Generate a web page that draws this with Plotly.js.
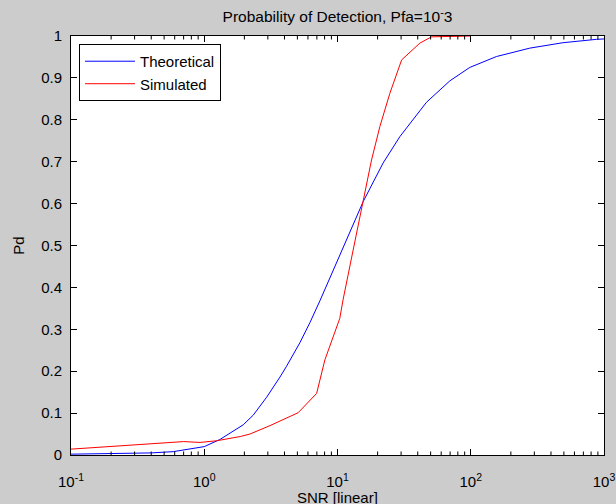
<!DOCTYPE html>
<html>
<head>
<meta charset="utf-8">
<script src="https://cdn.plot.ly/plotly-3.0.1.min.js"></script>
<style>html,body{margin:0;padding:0;background:#cccccc;}#chart{width:616px;height:504px;}</style>
</head>
<body>
<div id="chart"></div>
<script>
// Theoretical curve
const theoSNR = [0.1, 0.24, 0.4, 0.585, 0.8, 1.0, 1.31, 1.65, 1.96, 2.33, 2.94, 3.7, 4.15, 5.22, 6.21, 7.38, 9.29, 12.4, 15.6, 22, 29.4, 46.6, 69.7, 98.4, 156, 277, 493, 877, 1000];
const theoPd  = [0.002, 0.003, 0.005, 0.008, 0.014, 0.020, 0.037, 0.056, 0.072, 0.095, 0.138, 0.186, 0.212, 0.268, 0.316, 0.368, 0.440, 0.530, 0.605, 0.697, 0.760, 0.842, 0.893, 0.925, 0.951, 0.971, 0.984, 0.992, 0.993];
// Simulated curve
const simSNR = [0.1, 0.35, 0.7, 0.93, 1.24, 1.86, 2.2, 3.11, 5.07, 6.97, 8.04, 10.4, 11.0, 13.1, 15.6, 18.0, 20.8, 24.7, 30.3, 41.5, 50.8, 100];
const simPd  = [0.014, 0.026, 0.032, 0.030, 0.034, 0.044, 0.050, 0.070, 0.101, 0.147, 0.227, 0.326, 0.370, 0.489, 0.609, 0.704, 0.784, 0.863, 0.943, 0.983, 0.998, 1.0];
const seriesNames = ['Theoretical', 'Simulated'];
// Axis ticks
const xTicks = [0.1, 1, 10, 100, 1000];
const xTickText = ['10<sup>-1</sup>', '10<sup>0</sup>', '10<sup>1</sup>', '10<sup>2</sup>', '10<sup>3</sup>'];
const xMinorTicks = [0.2, 0.3, 0.4, 0.5, 0.6, 0.7, 0.8, 0.9, 2, 3, 4, 5, 6, 7, 8, 9, 20, 30, 40, 50, 60, 70, 80, 90, 200, 300, 400, 500, 600, 700, 800, 900];
const yTicks = [0, 0.1, 0.2, 0.3, 0.4, 0.5, 0.6, 0.7, 0.8, 0.9, 1];
const yTickText = ['0', '0.1', '0.2', '0.3', '0.4', '0.5', '0.6', '0.7', '0.8', '0.9', '1'];
const xTitle = 'SNR [linear]';

const fam = 'Liberation Sans, Arial, sans-serif';
const fsz = 15;

const traces = [
  {x: theoSNR, y: theoPd, name: seriesNames[0], type: 'scatter', mode: 'lines', line: {color: '#0000ff', width: 1}},
  {x: simSNR, y: simPd, name: seriesNames[1], type: 'scatter', mode: 'lines', line: {color: '#ff0000', width: 1}}
];

// minor log ticks (inside, bottom and top), placed through the x axis scale
const minorLen = 3.5 / 419;
const shapes = [];
xMinorTicks.forEach(v => {
  shapes.push({type: 'line', xref: 'x', yref: 'paper', x0: v, x1: v, y0: 0, y1: minorLen, line: {color: '#000', width: 1}, layer: 'above'});
  shapes.push({type: 'line', xref: 'x', yref: 'paper', x0: v, x1: v, y0: 1 - minorLen, y1: 1, line: {color: '#000', width: 1}, layer: 'above'});
});

const layout = {
  width: 616, height: 504,
  paper_bgcolor: '#cccccc',
  plot_bgcolor: '#ffffff',
  margin: {l: 71, r: 12, t: 36, b: 49, pad: 0},
  font: {family: fam, size: fsz, color: '#000'},
  title: {text: 'Probability of Detection, Pfa=10<sup>-</sup>3', font: {family: fam, size: 15.5, color: '#000'},
          xref: 'paper', x: 0.5, xanchor: 'center', yref: 'container', y: 1 - 17/504, yanchor: 'middle'},
  xaxis: {
    type: 'log', range: [-1, 3], tickvals: xTicks, ticktext: xTickText,
    showgrid: false, zeroline: false,
    showline: true, linecolor: '#000', linewidth: 1, mirror: 'allticks',
    ticks: 'inside', ticklen: 6, tickcolor: '#000', tickwidth: 1,
    ticklabelstandoff: 13,
    tickfont: {family: fam, size: fsz, color: '#000'}
  },
  yaxis: {
    range: [0, 1], tickvals: yTicks, ticktext: yTickText,
    showgrid: false, zeroline: false,
    showline: true, linecolor: '#000', linewidth: 1, mirror: 'allticks',
    ticks: 'inside', ticklen: 6, tickcolor: '#000', tickwidth: 1,
    ticklabelstandoff: 5,
    tickfont: {family: fam, size: fsz, color: '#000'},
    title: {text: 'Pd', font: {family: fam, size: fsz, color: '#000'}, standoff: 12}
  },
  annotations: [
    {text: xTitle, xref: 'paper', yref: 'paper', x: 0.5, y: -(497 - 455) / 419, xanchor: 'center', yanchor: 'middle',
     showarrow: false, font: {family: fam, size: fsz, color: '#000'}}
  ],
  shapes: shapes,
  showlegend: true,
  legend: {
    x: 0.015, y: 0.981, xanchor: 'left', yanchor: 'top',
    bgcolor: '#ffffff', bordercolor: '#000', borderwidth: 1,
    font: {family: fam, size: fsz, color: '#000'},
    itemwidth: 50, tracegroupgap: 0
  }
};

Plotly.newPlot('chart', traces, layout, {displayModeBar: false, staticPlot: true});
</script>
</body>
</html>
